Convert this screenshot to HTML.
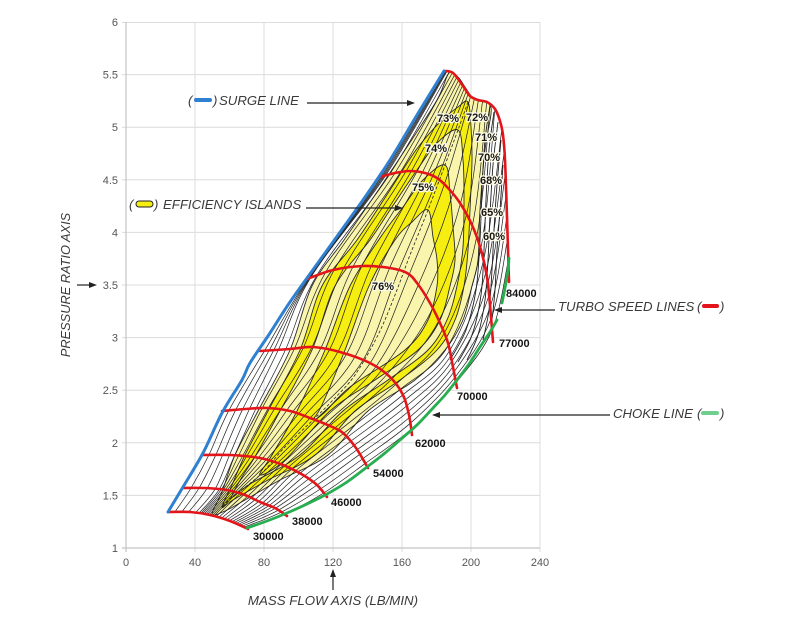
<!DOCTYPE html>
<html><head><meta charset="utf-8"><style>
html,body{margin:0;padding:0;background:#fff;}
svg{display:block}
text{font-family:"Liberation Sans",sans-serif;}
.tk{font-size:11px;fill:#555;}
.lb{font-size:11px;font-weight:bold;fill:#151515;}
.pc{font-size:11px;font-weight:bold;fill:#151515;stroke:#fdfbe8;stroke-width:2.5px;paint-order:stroke;}
.an{font-size:13.2px;font-style:italic;fill:#3a3a3a;}
</style></head><body>
<svg id="s" width="800" height="640" viewBox="0 0 800 640" xmlns="http://www.w3.org/2000/svg">
<rect width="800" height="640" fill="#fff"/>
<g stroke="#dcdcdc" stroke-width="1">
<line x1="122" y1="22.5" x2="540" y2="22.5"/>
<line x1="122" y1="74.6" x2="540" y2="74.6"/>
<line x1="122" y1="127.2" x2="540" y2="127.2"/>
<line x1="122" y1="179.8" x2="540" y2="179.8"/>
<line x1="122" y1="232.4" x2="540" y2="232.4"/>
<line x1="122" y1="285" x2="540" y2="285"/>
<line x1="122" y1="337.6" x2="540" y2="337.6"/>
<line x1="122" y1="390.2" x2="540" y2="390.2"/>
<line x1="122" y1="442.8" x2="540" y2="442.8"/>
<line x1="122" y1="495.4" x2="540" y2="495.4"/>
<line x1="195" y1="22" x2="195" y2="552"/>
<line x1="264" y1="22" x2="264" y2="552"/>
<line x1="333" y1="22" x2="333" y2="552"/>
<line x1="402" y1="22" x2="402" y2="552"/>
<line x1="471" y1="22" x2="471" y2="552"/>
<line x1="540" y1="22" x2="540" y2="552"/>
</g>
<g stroke="#c4c4c4" stroke-width="1.2">
<line x1="126" y1="22" x2="126" y2="552"/>
<line x1="122" y1="548" x2="540" y2="548"/>
</g>
<g class="tk" text-anchor="end">
<text x="118" y="26">6</text>
<text x="118" y="78.6">5.5</text>
<text x="118" y="131.2">5</text>
<text x="118" y="183.8">4.5</text>
<text x="118" y="236.4">4</text>
<text x="118" y="289">3.5</text>
<text x="118" y="341.6">3</text>
<text x="118" y="394.2">2.5</text>
<text x="118" y="446.8">2</text>
<text x="118" y="499.4">1.5</text>
<text x="118" y="552">1</text>
</g>
<g class="tk" text-anchor="middle">
<text x="126" y="566">0</text>
<text x="195" y="566">40</text>
<text x="264" y="566">80</text>
<text x="333" y="566">120</text>
<text x="402" y="566">160</text>
<text x="471" y="566">200</text>
<text x="540" y="566">240</text>
</g>

<g id="isl"></g>
<g id="fam" fill="none" stroke="#1e1e1e" stroke-width="0.7"></g>
<g id="rc" fill="none" stroke="#1e1e1e" stroke-width="0.9"></g>
<g id="dash" fill="none" stroke="#222" stroke-width="0.8" stroke-dasharray="3,2"></g>
<g id="red" fill="none" stroke="#e3151b" stroke-width="2.6" stroke-linecap="round"></g>
<path id="surge" fill="none" stroke="#2f80d0" stroke-width="3" stroke-linecap="round"/>
<g id="choke" fill="none" stroke="#27ae4f" stroke-width="2.8" stroke-linecap="round"></g>

<g class="pc">
<text x="437" y="122">73%</text>
<text x="466" y="121">72%</text>
<text x="425" y="152">74%</text>
<text x="475" y="141">71%</text>
<text x="478" y="161">70%</text>
<text x="480" y="184">68%</text>
<text x="412" y="191">75%</text>
<text x="481" y="216">65%</text>
<text x="483" y="240">60%</text>
<text x="372" y="290">76%</text>
</g>
<g class="lb">
<text x="506" y="297">84000</text>
<text x="499" y="347">77000</text>
<text x="457" y="400">70000</text>
<text x="415" y="447">62000</text>
<text x="373" y="477">54000</text>
<text x="331" y="506">46000</text>
<text x="292" y="525">38000</text>
<text x="253" y="540">30000</text>
</g>

<g class="an">
<text x="188" y="105">(</text>
<text x="213" y="105">)</text>
<text x="219" y="105">SURGE LINE</text>
<text x="129" y="209">(</text>
<text x="154" y="209">)</text>
<text x="163" y="209">EFFICIENCY ISLANDS</text>
<text x="558" y="311">TURBO SPEED LINES</text>
<text x="697" y="311">(</text>
<text x="720" y="311">)</text>
<text x="613" y="418">CHOKE LINE</text>
<text x="697" y="418">(</text>
<text x="720" y="418">)</text>
<text transform="translate(70,285) rotate(-90)" text-anchor="middle" font-size="12.8">PRESSURE RATIO AXIS</text>
<text x="333" y="605" text-anchor="middle" font-size="13.3">MASS FLOW AXIS (LB/MIN)</text>
</g>
<rect x="194" y="98" width="18" height="4" rx="2" fill="#2f80d0"/>
<rect x="136" y="201" width="17" height="6" rx="3" fill="#f6ee10" stroke="#222" stroke-width="1"/>
<rect x="702" y="304" width="17" height="4" rx="2" fill="#e3151b"/>
<rect x="701" y="411" width="18" height="4" rx="2" fill="#6fcf8f"/>
<g stroke="#222" stroke-width="1.2">
<line x1="307" y1="103" x2="409" y2="103"/>
<line x1="306" y1="208" x2="397" y2="208"/>
<line x1="555" y1="310" x2="500" y2="310"/>
<line x1="610" y1="415" x2="438" y2="415"/>
<line x1="77" y1="285" x2="91" y2="285"/>
<line x1="333" y1="590" x2="333" y2="575"/>
</g>
<g fill="#222">
<polygon points="415,103 407,100 407,106"/>
<polygon points="403,208 395,205 395,211"/>
<polygon points="494,310 502,307 502,313"/>
<polygon points="432,415 440,412 440,418"/>
<polygon points="97,285 89,282 89,288"/>
<polygon points="333,569 330,577 336,577"/>
</g>
</svg>
<script>
(function(){
var NS="http://www.w3.org/2000/svg";
function f(v){return Math.round(v*100)/100;}
function cr(p,closed){
 var n=p.length,d='M'+f(p[0][0])+','+f(p[0][1]);
 function g(i){return closed?p[(i+n)%n]:p[Math.max(0,Math.min(n-1,i))];}
 var m=closed?n:n-1;
 for(var i=0;i<m;i++){
  var p0=g(i-1),p1=g(i),p2=g(i+1),p3=g(i+2);
  var c1=[p1[0]+(p2[0]-p0[0])/6,p1[1]+(p2[1]-p0[1])/6];
  var c2=[p2[0]-(p3[0]-p1[0])/6,p2[1]-(p3[1]-p1[1])/6];
  d+='C'+f(c1[0])+','+f(c1[1])+' '+f(c2[0])+','+f(c2[1])+' '+f(p2[0])+','+f(p2[1]);
 }
 if(closed)d+='Z';
 return d;
}
function cum(p){var L=[0];for(var i=1;i<p.length;i++)L.push(L[i-1]+Math.hypot(p[i][0]-p[i-1][0],p[i][1]-p[i-1][1]));return L;}
function arc(p){
 var L=cum(p),T=L[L.length-1];
 return function(fr){var s=fr*T;for(var i=0;i<p.length-1;i++){if(s<=L[i+1]||i==p.length-2){var t=(s-L[i])/(L[i+1]-L[i]);t=Math.max(0,Math.min(1,t));return [p[i][0]+(p[i+1][0]-p[i][0])*t,p[i][1]+(p[i+1][1]-p[i][1])*t];}}};
}
function proj(p,q){
 var L=cum(p),T=L[L.length-1],best=1e9,bs=0;
 for(var i=0;i<p.length-1;i++){
  var ax=p[i][0],ay=p[i][1],dx=p[i+1][0]-ax,dy=p[i+1][1]-ay,l2=dx*dx+dy*dy;
  var t=((q[0]-ax)*dx+(q[1]-ay)*dy)/l2;t=Math.max(0,Math.min(1,t));
  var px=ax+t*dx,py=ay+t*dy,d=Math.hypot(px-q[0],py-q[1]);
  if(d<best){best=d;bs=L[i]+t*Math.sqrt(l2);}
 }
 return bs/T;
}
function add(par,attrs){var e=document.createElementNS(NS,'path');for(var k in attrs)e.setAttribute(k,attrs[k]);document.getElementById(par).appendChild(e);return e;}

var S=[
 [[168,512],[190,512],[210,515],[230,521],[248,529]],
 [[183,488],[205,488],[227,490],[245,495],[260,502],[275,508],[287,516]],
 [[202,455],[230,455],[260,458],[283,465],[303,475],[317,485],[327,497]],
 [[222,411],[245,409],[267,408],[290,411],[310,418],[330,426],[343,433],[356,448],[368,468]],
 [[260,351],[290,349],[313,347],[340,352],[370,363],[390,377],[403,395],[409,415],[412,435]],
 [[307,279],[333,270],[363,266],[390,268],[407,273],[417,283],[430,303],[440,323],[448,343],[453,367],[457,388]],
 [[380,177],[395,173],[410,171],[425,173],[437,178],[448,188],[460,203],[472,225],[481,250],[487,277],[490,305],[493,342]],
 [[444,71],[453,73],[463,86],[470,96],[478,100],[487,102],[495,109],[500,121],[503,135],[505,160],[507,217],[509,282]]
];
var anc=[
 [[198,512],[215,515],[232,521]],
 [[218,489],[238,493],[262,503]],
 [[232,455],[272,461],[295,470]],
 [[252,409],[313,419],[343,433]],
 [[280,350],[367,362],[401,388]],
 [[311,278],[403,272],[447,345]],
 [[386,175],[440,180],[480,248]],
 [[447,72],[469,95],[493,107]]
];
var UA=[0,0.15,0.5,0.72,1];
var A=S.map(arc);
var FM=S.map(function(p,k){
 var fr=[0].concat(anc[k].map(function(q){return proj(p,q);})).concat([1]);
 for(var j=1;j<fr.length;j++)if(fr[j]<fr[j-1]+0.005)fr[j]=Math.min(1,fr[j-1]+0.005);
 return function(u){for(var j=0;j<UA.length-1;j++){if(u<=UA[j+1]){var t=(u-UA[j])/(UA[j+1]-UA[j]);return fr[j]+(fr[j+1]-fr[j])*t;}}return 1;};
});

var P='#f9f5ac',B='#f6ee10';
var isl=[
 [P,[[212,514],[222,492],[235,455],[258,411],[290,350],[312,286],[344,240],[375,195],[405,150],[437,100],[449,73],[458,77],[465,87],[472,97],[480,101],[489,104],[491,114],[485,150],[480,210],[478,260],[472,286],[463,320],[445,350],[415,380],[368,411],[328,455],[280,480],[245,500],[225,511]]],
 [B,[[222,507],[232,485],[245,455],[268,411],[300,350],[322,286],[357,240],[390,190],[416,150],[440,122],[458,107],[468,102],[471,127],[472,160],[470,210],[468,250],[464,286],[455,320],[437,350],[400,380],[355,411],[315,455],[268,480],[233,500]]],
 [P,[[232,497],[242,477],[256,455],[280,411],[312,350],[335,286],[370,240],[390,210],[417,170],[437,143],[458,130],[463,160],[464,193],[463,247],[457,286],[447,320],[428,350],[388,380],[343,411],[300,455],[250,484]]],
 [B,[[260,475],[272,455],[297,411],[325,350],[350,286],[380,238],[403,207],[423,180],[445,165],[450,193],[453,227],[455,260],[450,286],[440,320],[418,350],[375,380],[330,411],[285,460]]],
 [P,[[313,420],[322,405],[345,350],[369,286],[395,240],[412,222],[428,210],[433,237],[437,260],[437,286],[428,320],[405,350],[350,387],[325,412]]]
];
isl.forEach(function(it){add('isl',{d:cr(it[1],true),fill:it[0],stroke:'#2a2a2a','stroke-width':'0.9'});});

var N=28;
for(var i=0;i<N;i++){
 var u=(i+1)/(N+1),pts=[];
 for(var k=0;k<8;k++)pts.push(A[k](FM[k](u)));
 add('fam',{d:cr(pts,false)});
}
var rc=[
 [[490,106],[485,140],[482,190],[480,240],[476,290],[466,330],[450,360]],
 [[494,112],[489,150],[486,200],[484,250],[481,295],[472,335],[458,362]],
 [[498,122],[493,165],[490,215],[488,260],[485,300],[478,335],[467,360]],
 [[501,140],[497,185],[494,230],[492,270],[489,310],[483,340]],
 [[503,165],[500,210],[497,250],[495,290],[492,320]]
];
rc.forEach(function(p){add('rc',{d:cr(p,false)});});
add('dash',{d:cr([[468,102],[458,130],[445,165],[428,210],[410,255],[395,295],[378,335],[355,375],[333,400],[313,420],[285,447],[260,475],[232,497],[222,507]],false)});

S.forEach(function(p){add('red',{d:cr(p,false)});});
document.getElementById('surge').setAttribute('d',cr([[168,512],[183,487],[203,453],[222,413],[242,380],[250,363],[270,333],[290,302],[320,260],[363,200],[390,160],[417,115],[444,71]],false));
add('choke',{d:cr([[247,528],[267,521],[287,513],[307,504],[327,494],[347,482],[367,467],[385,453],[400,440],[417,425],[433,408],[445,395],[457,380],[469,364],[480,347],[490,332],[497,320]],false)});
add('choke',{d:cr([[502,303],[505,288],[508,270],[509,258]],false)});
})();
</script>
</body></html>
